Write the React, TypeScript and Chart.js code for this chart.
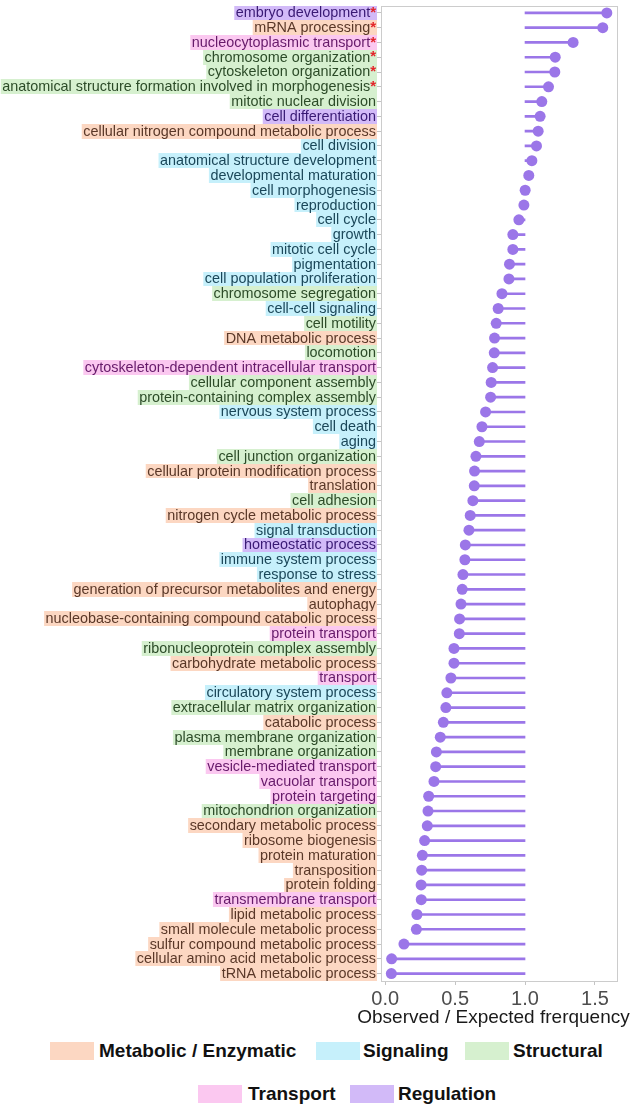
import React, { useEffect, useRef } from "react";
import { Chart, registerables } from "chart.js";

Chart.register(...registerables);

// ---------------- data ----------------
const categories: string[] = [
  "embryo development",
  "mRNA processing",
  "nucleocytoplasmic transport",
  "chromosome organization",
  "cytoskeleton organization",
  "anatomical structure formation involved in morphogenesis",
  "mitotic nuclear division",
  "cell differentiation",
  "cellular nitrogen compound metabolic process",
  "cell division",
  "anatomical structure development",
  "developmental maturation",
  "cell morphogenesis",
  "reproduction",
  "cell cycle",
  "growth",
  "mitotic cell cycle",
  "pigmentation",
  "cell population proliferation",
  "chromosome segregation",
  "cell-cell signaling",
  "cell motility",
  "DNA metabolic process",
  "locomotion",
  "cytoskeleton-dependent intracellular transport",
  "cellular component assembly",
  "protein-containing complex assembly",
  "nervous system process",
  "cell death",
  "aging",
  "cell junction organization",
  "cellular protein modification process",
  "translation",
  "cell adhesion",
  "nitrogen cycle metabolic process",
  "signal transduction",
  "homeostatic process",
  "immune system process",
  "response to stress",
  "generation of precursor metabolites and energy",
  "autophagy",
  "nucleobase-containing compound catabolic process",
  "protein transport",
  "ribonucleoprotein complex assembly",
  "carbohydrate metabolic process",
  "transport",
  "circulatory system process",
  "extracellular matrix organization",
  "catabolic process",
  "plasma membrane organization",
  "membrane organization",
  "vesicle-mediated transport",
  "vacuolar transport",
  "protein targeting",
  "mitochondrion organization",
  "secondary metabolic process",
  "ribosome biogenesis",
  "protein maturation",
  "transposition",
  "protein folding",
  "transmembrane transport",
  "lipid metabolic process",
  "small molecule metabolic process",
  "sulfur compound metabolic process",
  "cellular amino acid metabolic process",
  "tRNA metabolic process",
];

const ratios: number[] = [
  1.585, 1.556, 1.344, 1.216, 1.213, 1.168, 1.12, 1.108, 1.094, 1.082,
  1.049, 1.027, 1.001, 0.992, 0.956, 0.913, 0.913, 0.889, 0.885, 0.835,
  0.808, 0.794, 0.782, 0.78, 0.768, 0.758, 0.754, 0.718, 0.692, 0.673,
  0.649, 0.639, 0.637, 0.627, 0.608, 0.599, 0.573, 0.57, 0.556, 0.551,
  0.542, 0.532, 0.53, 0.492, 0.492, 0.47, 0.441, 0.434, 0.416, 0.394,
  0.366, 0.361, 0.349, 0.311, 0.306, 0.301, 0.282, 0.266, 0.261, 0.257,
  0.258, 0.227, 0.223, 0.134, 0.046, 0.044,
];

// M = Metabolic / Enzymatic, S = Signaling, T = Structural, P = Transport, R = Regulation
const groups: string[] = [
  "R", "M", "P", "T", "T", "T", "T", "R", "M", "S",
  "S", "S", "S", "S", "S", "S", "S", "S", "S", "T",
  "S", "T", "M", "T", "P", "T", "T", "S", "S", "S",
  "T", "M", "M", "T", "M", "S", "R", "S", "S", "M",
  "M", "M", "P", "T", "M", "P", "S", "T", "M", "T",
  "T", "P", "P", "P", "T", "M", "M", "M", "M", "M",
  "P", "M", "M", "M", "M", "M",
];

const significant: boolean[] = categories.map((_, i) => i < 6);

const xTickValues: number[] = [0, 0.5, 1.0, 1.5];
const baseline = 1.0;
const xTitle = "Observed / Expected frerquency";

const legendNames: string[] = ["Metabolic / Enzymatic", "Signaling", "Structural", "Transport", "Regulation"];
const legendKeys: string[] = ["M", "S", "T", "P", "R"];

// ---------------- styles ----------------
const bgColors: Record<string, string> = {
  M: "#fcd7c2",
  S: "#c6f0fb",
  T: "#d6f0cf",
  P: "#fbc8f0",
  R: "#d2baf8",
};
const textColors: Record<string, string> = {
  M: "#5a3828",
  S: "#1b4759",
  T: "#2c4b28",
  P: "#661a6a",
  R: "#391a74",
};
const DOT = "#9b76e8";
const FONT = '"Liberation Sans", Arial, Helvetica, sans-serif';

const legendPos = [
  { box: 50, text: 99, top: 1042 },
  { box: 316, text: 363, top: 1042 },
  { box: 465, text: 513, top: 1042 },
  { box: 198, text: 248, top: 1085 },
  { box: 350, text: 398, top: 1085 },
];

const CANVAS_W = 633;
const CANVAS_H = 1035;

const labelPlugin = {
  id: "rowLabels",
  afterDraw(chart: any) {
    const ctx = chart.ctx as CanvasRenderingContext2D;
    const ys = chart.scales.y;
    const area = chart.chartArea;
    ctx.save();
    const rowH = ys.getPixelForValue(1) - ys.getPixelForValue(0);
    const right = area.left - 5;
    const textFont = `14.4px ${FONT}`;
    const starFont = `bold 15px ${FONT}`;
    categories.forEach((name, i) => {
      const y = ys.getPixelForValue(i);
      const g = groups[i];
      ctx.font = textFont;
      const wText = ctx.measureText(name).width;
      ctx.font = starFont;
      const wStar = significant[i] ? ctx.measureText("*").width : 0;
      const total = wText + wStar;
      const top = Math.round(y - rowH / 2);
      const bot = Math.round(y + rowH / 2);
      ctx.fillStyle = bgColors[g];
      ctx.fillRect(right - total - 1.5, top, total + 2.5, bot - top);
      ctx.textBaseline = "middle";
      ctx.textAlign = "right";
      if (significant[i]) {
        ctx.font = starFont;
        ctx.fillStyle = "#e3262b";
        ctx.fillText("*", right, y);
      }
      ctx.font = textFont;
      ctx.fillStyle = textColors[g];
      ctx.fillText(name, right - wStar, y + 0.5);
    });

    // x-axis title (drawn without width compression), centred just left of the panel centre
    ctx.font = `19px ${FONT}`;
    ctx.fillStyle = "#1a1a1a";
    ctx.textAlign = "center";
    ctx.textBaseline = "middle";
    ctx.fillText(xTitle, (area.left + area.right) / 2 - 6, area.bottom + 37);
    ctx.restore();
  },
};

const boxPlugin = {
  id: "panelBox",
  beforeDatasetsDraw(chart: any) {
    const { ctx, chartArea: a } = chart;
    ctx.save();
    ctx.strokeStyle = "#cccccc";
    ctx.lineWidth = 1;
    ctx.strokeRect(Math.round(a.left) + 0.5, Math.round(a.top) + 0.5, Math.round(a.right - a.left) - 1, Math.round(a.bottom - a.top) - 1);
    ctx.restore();
  },
};

export default function App() {
  const ref = useRef<HTMLCanvasElement>(null);

  useEffect(() => {
    if (!ref.current) return;
    const chart = new Chart(ref.current, {
      type: "bar",
      data: {
        labels: categories,
        datasets: [
          {
            type: "line",
            indexAxis: "y",
            data: ratios,
            showLine: false,
            pointRadius: 5.5,
            pointHoverRadius: 5.5,
            pointBackgroundColor: DOT,
            pointBorderWidth: 0,
            borderColor: DOT,
            order: 0,
          } as any,
          {
            type: "bar",
            data: ratios.map((v) => [v, baseline]),
            backgroundColor: DOT,
            borderWidth: 0,
            barThickness: 2,
            order: 1,
          } as any,
        ],
      },
      options: {
        indexAxis: "y",
        responsive: false,
        animation: false,
        events: [],
        layout: { padding: { top: 3, right: 15, left: 0, bottom: 0 } },
        plugins: { legend: { display: false }, tooltip: { enabled: false } },
        scales: {
          x: {
            type: "linear",
            min: -0.03,
            max: 1.665,
            afterBuildTicks: (s: any) => {
              s.ticks = xTickValues.map((v) => ({ value: v }));
            },
            afterFit: (s: any) => {
              s.height = 54;
            },
            ticks: {
              callback: (v: any) => Number(v).toFixed(1),
              font: { family: FONT, size: 20 },
              color: "#4d4d4d",
              padding: 2,
              maxRotation: 0,
            },
            grid: { drawOnChartArea: false, drawTicks: true, tickLength: 4, color: "#c4c4c4" },
            border: { display: false },
            title: { display: false },
          },
          y: {
            type: "category",
            offset: true,
            afterFit: (s: any) => {
              s.width = 381;
            },
            ticks: { display: false },
            grid: { offset: false, drawOnChartArea: false, drawTicks: true, tickLength: 4, color: "#c4c4c4" },
            border: { display: false },
          },
        },
      } as any,
      plugins: [boxPlugin, labelPlugin],
    });
    return () => chart.destroy();
  }, []);

  return (
    <div style={{ position: "absolute", left: 0, top: 0, width: 633, height: 1107, background: "#fff", fontFamily: FONT }}>
      <canvas ref={ref} width={CANVAS_W} height={CANVAS_H} style={{ position: "absolute", left: 0, top: 0 }} />
      {legendKeys.map((k, i) => (
        <React.Fragment key={k}>
          <div
            style={{
              position: "absolute",
              left: legendPos[i].box,
              top: legendPos[i].top,
              width: 44,
              height: 18,
              background: bgColors[k],
            }}
          />
          <div
            style={{
              position: "absolute",
              left: legendPos[i].text,
              top: legendPos[i].top - 3,
              height: 24,
              lineHeight: "24px",
              fontSize: 19,
              fontWeight: "bold",
              color: "#111",
              whiteSpace: "nowrap",
            }}
          >
            {legendNames[i]}
          </div>
        </React.Fragment>
      ))}
    </div>
  );
}
